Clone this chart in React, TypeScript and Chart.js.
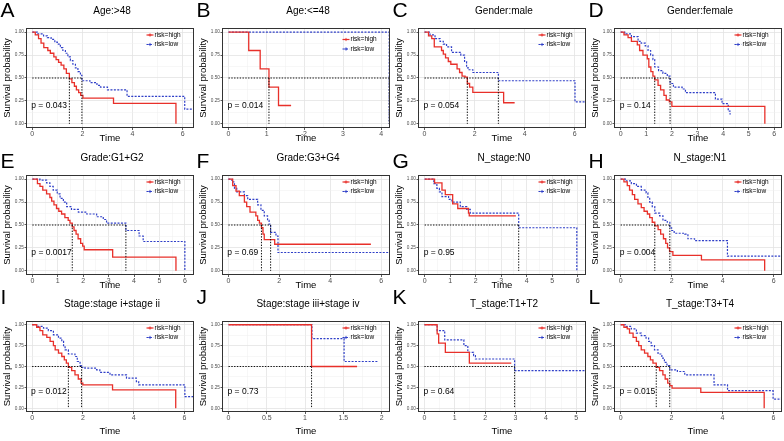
import React, { useEffect, useRef } from "react";
import { Chart, registerables } from "chart.js";

Chart.register(...registerables);

const FONT = 'Arial, "Liberation Sans", Helvetica, sans-serif';
const RED = "#e8302a";
const BLUE = "#2f3fc8";
const MED = "#111111";

// ---------- tick labels ----------
const Y_TICKS = [0, 0.25, 0.5, 0.75, 1];
const Y_LABELS = ["0.00", "0.25", "0.50", "0.75", "1.00"];
const X_TICKS_EVEN6 = [0, 2, 4, 6];
const X_LABELS_EVEN6 = ["0", "2", "4", "6"];
const X_TICKS_INT6 = [0, 1, 2, 3, 4, 5, 6];
const X_LABELS_INT6 = ["0", "1", "2", "3", "4", "5", "6"];
const X_TICKS_INT4 = [0, 1, 2, 3, 4];
const X_LABELS_INT4 = ["0", "1", "2", "3", "4"];
const X_TICKS_INT5 = [0, 1, 2, 3, 4, 5];
const X_LABELS_INT5 = ["0", "1", "2", "3", "4", "5"];
const X_TICKS_HALF = [0, 0.5, 1, 1.5, 2];
const X_LABELS_HALF = ["0", "0.5", "1", "1.5", "2"];

// ---------- A: Age:>48 ----------
const A_high_t = [0, 0.12, 0.25, 0.35, 0.46, 0.62, 0.72, 0.86, 0.95, 1.05, 1.15, 1.26, 1.36, 1.48, 1.58, 1.68, 1.76, 1.85, 1.93, 2.02, 3.24, 5.73];
const A_high_s = [1, 0.97, 0.93, 0.88, 0.83, 0.8, 0.77, 0.73, 0.7, 0.67, 0.64, 0.6, 0.55, 0.49, 0.45, 0.41, 0.37, 0.34, 0.31, 0.28, 0.224, 0];
const A_low_t = [0, 0.2, 0.45, 0.6, 0.75, 0.9, 1.0, 1.12, 1.22, 1.32, 1.42, 1.52, 1.62, 1.72, 1.82, 1.92, 1.98, 2.3, 2.58, 2.72, 3.0, 3.78, 6.08, 6.45];
const A_low_s = [1, 0.98, 0.96, 0.94, 0.92, 0.89, 0.87, 0.83, 0.8, 0.77, 0.73, 0.69, 0.65, 0.61, 0.57, 0.53, 0.47, 0.45, 0.42, 0.4, 0.37, 0.3, 0.16, 0.16];
const A_medians = [1.48, 1.98];

// ---------- B: Age:<=48 ----------
const B_high_t = [0, 0.53, 0.83, 1.06, 1.31, 1.64];
const B_high_s = [1, 0.8, 0.6, 0.4, 0.2, 0.2];
const B_low_t = [0, 4.21];
const B_low_s = [1, 0];
const B_medians = [1.06, 4.21];

// ---------- C: Gender:male ----------
const C_high_t = [0, 0.16, 0.29, 0.39, 0.68, 0.75, 0.84, 0.95, 1.05, 1.3, 1.4, 1.5, 1.62, 1.71, 1.8, 1.93, 3.16, 3.6];
const C_high_s = [1, 0.96, 0.93, 0.84, 0.8, 0.76, 0.72, 0.68, 0.65, 0.6, 0.56, 0.52, 0.51, 0.44, 0.4, 0.343, 0.23, 0.23];
const C_low_t = [0, 0.22, 0.42, 0.62, 0.75, 0.88, 1.08, 1.45, 1.6, 1.68, 1.78, 1.93, 2.95, 6.01, 6.45];
const C_low_s = [1, 0.97, 0.93, 0.9, 0.87, 0.84, 0.78, 0.75, 0.68, 0.61, 0.59, 0.56, 0.47, 0.24, 0.24];
const C_medians = [1.71, 2.95];

// ---------- D: Gender:female ----------
const D_high_t = [0, 0.13, 0.29, 0.42, 0.65, 0.74, 0.87, 1.04, 1.1, 1.18, 1.26, 1.33, 1.46, 1.56, 1.69, 1.78, 1.9, 2.0, 5.63];
const D_high_s = [1, 0.97, 0.94, 0.9, 0.86, 0.8, 0.75, 0.71, 0.62, 0.57, 0.52, 0.48, 0.42, 0.37, 0.31, 0.26, 0.24, 0.19, 0];
const D_low_t = [0, 0.16, 0.42, 0.68, 0.8, 0.96, 1.07, 1.17, 1.26, 1.33, 1.48, 1.65, 1.82, 1.93, 2.06, 2.4, 2.53, 3.7, 3.96, 4.2, 4.27, 4.3];
const D_low_s = [1, 0.98, 0.95, 0.9, 0.88, 0.85, 0.8, 0.75, 0.7, 0.62, 0.58, 0.55, 0.52, 0.44, 0.4, 0.38, 0.34, 0.27, 0.22, 0.14, 0.11, 0.11];
const D_medians = [1.33, 1.93];

// ---------- E: Grade:G1+G2 ----------
const E_high_t = [0, 0.2, 0.3, 0.41, 0.56, 0.69, 0.76, 0.85, 0.95, 1.04, 1.15, 1.28, 1.41, 1.48, 1.57, 1.64, 1.72, 1.8, 1.9, 1.98, 2.04, 3.16, 5.65];
const E_high_s = [1, 0.95, 0.92, 0.88, 0.84, 0.8, 0.76, 0.72, 0.68, 0.65, 0.62, 0.58, 0.55, 0.52, 0.48, 0.44, 0.4, 0.35, 0.3, 0.27, 0.23, 0.15, 0];
const E_low_t = [0, 0.3, 0.56, 0.69, 0.82, 0.98, 1.09, 1.22, 1.35, 1.54, 1.81, 2.14, 2.53, 2.79, 2.92, 3.68, 4.2, 4.36, 6.0];
const E_low_s = [1, 0.99, 0.96, 0.92, 0.88, 0.84, 0.79, 0.75, 0.7, 0.67, 0.64, 0.62, 0.59, 0.56, 0.52, 0.44, 0.38, 0.32, 0];
const E_medians = [1.57, 3.68];

// ---------- F: Grade:G3+G4 ----------
const F_high_t = [0, 0.17, 0.3, 0.43, 0.63, 0.72, 0.85, 1.08, 1.15, 1.22, 1.3, 1.36, 1.41, 1.82, 5.6];
const F_high_s = [1, 0.93, 0.87, 0.82, 0.75, 0.7, 0.64, 0.6, 0.55, 0.52, 0.47, 0.4, 0.34, 0.29, 0.29];
const F_low_t = [0, 0.14, 0.24, 0.33, 0.63, 0.76, 1.15, 1.28, 1.41, 1.54, 1.6, 1.66, 1.87, 1.95, 6.4];
const F_low_s = [1, 0.97, 0.9, 0.86, 0.82, 0.78, 0.72, 0.66, 0.6, 0.55, 0.51, 0.42, 0.38, 0.2, 0.2];
const F_medians = [1.3, 1.66];

// ---------- G: N_stage:N0 ----------
const G_high_t = [0, 0.39, 0.68, 0.81, 1.1, 1.3, 1.72, 1.75, 3.58];
const G_high_s = [1, 0.96, 0.88, 0.83, 0.73, 0.68, 0.63, 0.6, 0.6];
const G_low_t = [0, 0.36, 0.48, 0.58, 0.68, 0.94, 1.07, 1.4, 1.65, 1.79, 3.69, 5.97];
const G_low_s = [1, 0.95, 0.9, 0.86, 0.81, 0.78, 0.75, 0.7, 0.67, 0.63, 0.47, 0];
const G_medians = [3.69];

// ---------- H: N_stage:N1 ----------
const H_high_t = [0, 0.13, 0.26, 0.35, 0.46, 0.55, 0.68, 0.81, 0.92, 1.05, 1.14, 1.24, 1.34, 1.47, 1.57, 1.68, 1.77, 1.84, 1.92, 2.05, 3.17, 5.65];
const H_high_s = [1, 0.97, 0.93, 0.88, 0.83, 0.78, 0.73, 0.69, 0.65, 0.62, 0.58, 0.53, 0.49, 0.45, 0.4, 0.35, 0.3, 0.25, 0.21, 0.17, 0.12, 0];
const H_low_t = [0, 0.22, 0.42, 0.62, 0.81, 1.0, 1.07, 1.14, 1.24, 1.34, 1.53, 1.66, 1.83, 1.93, 2.0, 2.1, 2.51, 2.64, 2.9, 4.19, 6.4];
const H_low_s = [1, 0.98, 0.95, 0.92, 0.88, 0.85, 0.8, 0.75, 0.7, 0.63, 0.6, 0.55, 0.53, 0.47, 0.44, 0.41, 0.4, 0.35, 0.33, 0.16, 0.16];
const H_medians = [1.34, 1.93];

// ---------- I: Stage:stage i+stage ii ----------
const I_high_t = [0, 0.18, 0.31, 0.42, 0.58, 0.71, 0.84, 0.91, 1.04, 1.17, 1.27, 1.35, 1.43, 1.56, 1.69, 1.82, 1.93, 2.0, 3.17, 5.66];
const I_high_s = [1, 0.97, 0.93, 0.88, 0.85, 0.8, 0.75, 0.7, 0.66, 0.62, 0.58, 0.54, 0.49, 0.45, 0.4, 0.35, 0.3, 0.28, 0.22, 0];
const I_low_t = [0, 0.18, 0.45, 0.64, 0.84, 1.04, 1.17, 1.24, 1.3, 1.43, 1.69, 1.78, 1.89, 1.95, 2.08, 2.54, 2.67, 3.07, 3.72, 4.11, 4.2, 6.02, 6.4];
const I_low_s = [1, 0.98, 0.96, 0.93, 0.88, 0.84, 0.8, 0.75, 0.7, 0.65, 0.62, 0.56, 0.51, 0.49, 0.48, 0.46, 0.43, 0.4, 0.36, 0.32, 0.28, 0.14, 0.14];
const I_medians = [1.43, 1.95];

// ---------- J: Stage:stage iii+stage iv ----------
const J_high_t = [0, 1.085, 1.68];
const J_high_s = [1, 0.5, 0.5];
const J_low_t = [0, 1.09, 1.51, 1.96];
const J_low_s = [1, 0.834, 0.56, 0.56];
const J_medians = [1.085];

// ---------- K: T_stage:T1+T2 ----------
const K_high_t = [0, 0.42, 0.47, 0.69, 1.48, 2.86];
const K_high_s = [1, 0.89, 0.78, 0.67, 0.54, 0.54];
const K_low_t = [0, 0.42, 0.67, 1.3, 1.43, 1.62, 1.68, 2.97, 5.3];
const K_low_s = [1, 0.93, 0.82, 0.75, 0.67, 0.63, 0.59, 0.45, 0.45];
const K_medians = [2.97];

// ---------- L: T_stage:T3+T4 ----------
const L_high_t = [0, 0.13, 0.26, 0.35, 0.49, 0.62, 0.71, 0.81, 0.94, 1.07, 1.17, 1.27, 1.4, 1.53, 1.66, 1.75, 1.85, 1.93, 2.02, 3.15, 5.64];
const L_high_s = [1, 0.97, 0.95, 0.9, 0.85, 0.8, 0.75, 0.7, 0.66, 0.62, 0.58, 0.54, 0.49, 0.45, 0.4, 0.35, 0.3, 0.27, 0.24, 0.19, 0];
const L_low_t = [0, 0.22, 0.42, 0.62, 0.81, 1.0, 1.1, 1.2, 1.33, 1.47, 1.62, 1.72, 1.82, 1.93, 2.23, 2.52, 3.67, 4.2, 5.99, 6.4];
const L_low_s = [1, 0.98, 0.95, 0.9, 0.87, 0.84, 0.8, 0.75, 0.7, 0.65, 0.6, 0.55, 0.51, 0.46, 0.44, 0.4, 0.28, 0.21, 0.11, 0.11];
const L_medians = [1.4, 1.93];

type PanelDef = {
  letter: string;
  title: string;
  p: string;
  ht: number[];
  hs: number[];
  lt: number[];
  ls: number[];
  medians: number[];
  xMin: number;
  xMax: number;
  xTicks: number[];
  xLabels: string[];
  legendDy?: number;
};

const PANELS: PanelDef[] = [
  { letter: "A", title: "Age:>48", p: "p = 0.043", ht: A_high_t, hs: A_high_s, lt: A_low_t, ls: A_low_s, medians: A_medians, xMin: -0.25, xMax: 6.45, xTicks: X_TICKS_EVEN6, xLabels: X_LABELS_EVEN6 },
  { letter: "B", title: "Age:<=48", p: "p = 0.014", ht: B_high_t, hs: B_high_s, lt: B_low_t, ls: B_low_s, medians: B_medians, xMin: -0.17, xMax: 4.23, xTicks: X_TICKS_INT4, xLabels: X_LABELS_INT4, legendDy: 4.5 },
  { letter: "C", title: "Gender:male", p: "p = 0.054", ht: C_high_t, hs: C_high_s, lt: C_low_t, ls: C_low_s, medians: C_medians, xMin: -0.26, xMax: 6.45, xTicks: X_TICKS_EVEN6, xLabels: X_LABELS_EVEN6 },
  { letter: "D", title: "Gender:female", p: "p = 0.14", ht: D_high_t, hs: D_high_s, lt: D_low_t, ls: D_low_s, medians: D_medians, xMin: -0.26, xMax: 6.3, xTicks: X_TICKS_INT6, xLabels: X_LABELS_INT6 },
  { letter: "E", title: "Grade:G1+G2", p: "p = 0.0017", ht: E_high_t, hs: E_high_s, lt: E_low_t, ls: E_low_s, medians: E_medians, xMin: -0.25, xMax: 6.36, xTicks: X_TICKS_INT6, xLabels: X_LABELS_INT6 },
  { letter: "F", title: "Grade:G3+G4", p: "p = 0.69", ht: F_high_t, hs: F_high_s, lt: F_low_t, ls: F_low_s, medians: F_medians, xMin: -0.25, xMax: 6.35, xTicks: X_TICKS_EVEN6, xLabels: X_LABELS_EVEN6 },
  { letter: "G", title: "N_stage:N0", p: "p = 0.95", ht: G_high_t, hs: G_high_s, lt: G_low_t, ls: G_low_s, medians: G_medians, xMin: -0.26, xMax: 6.33, xTicks: X_TICKS_INT6, xLabels: X_LABELS_INT6 },
  { letter: "H", title: "N_stage:N1", p: "p = 0.004", ht: H_high_t, hs: H_high_s, lt: H_low_t, ls: H_low_s, medians: H_medians, xMin: -0.26, xMax: 6.33, xTicks: X_TICKS_EVEN6, xLabels: X_LABELS_EVEN6 },
  { letter: "I", title: "Stage:stage i+stage ii", p: "p = 0.012", ht: I_high_t, hs: I_high_s, lt: I_low_t, ls: I_low_s, medians: I_medians, xMin: -0.24, xMax: 6.38, xTicks: X_TICKS_EVEN6, xLabels: X_LABELS_EVEN6 },
  { letter: "J", title: "Stage:stage iii+stage iv", p: "p = 0.73", ht: J_high_t, hs: J_high_s, lt: J_low_t, ls: J_low_s, medians: J_medians, xMin: -0.085, xMax: 2.11, xTicks: X_TICKS_HALF, xLabels: X_LABELS_HALF },
  { letter: "K", title: "T_stage:T1+T2", p: "p = 0.64", ht: K_high_t, hs: K_high_s, lt: K_low_t, ls: K_low_s, medians: K_medians, xMin: -0.21, xMax: 5.32, xTicks: X_TICKS_INT5, xLabels: X_LABELS_INT5 },
  { letter: "L", title: "T_stage:T3+T4", p: "p = 0.015", ht: L_high_t, hs: L_high_s, lt: L_low_t, ls: L_low_s, medians: L_medians, xMin: -0.26, xMax: 6.34, xTicks: X_TICKS_EVEN6, xLabels: X_LABELS_EVEN6 },
];

const PW = 196;
const PH = 147;
const PLOT_LEFT = 26;
const PLOT_RIGHT = 194;
// per-row layout (relative to each panel's top)
const ROW_PLOT_TOP = [28, 28, 27];
const ROW_PLOT_BOTTOM = [128, 128, 118];
const ROW_TIME_Y = [138, 138.5, 137];
const ROW_TITLE_Y = [11, 11, 10];
const LETTER_TOP = [-0.7, 150.3, 286.3];

function gridValues(majors: number[], min: number, max: number) {
  const step = majors[1] - majors[0];
  const out: number[] = [];
  const first = majors[0] - step / 2;
  const last = majors[majors.length - 1] + step / 2;
  for (let k = 0; first + (k * step) / 2 <= last + 1e-9; k++) {
    const v = Math.round((first + (k * step) / 2) * 10000) / 10000;
    if (v >= min && v <= max) out.push(v);
  }
  return out;
}
const isIn = (arr: number[], v: number) => arr.some((m) => Math.abs(m - v) < 1e-6);

function buildConfig(p: PanelDef, row: number): any {
  const pts = (t: number[], s: number[]) => t.map((v, i) => ({ x: v, y: s[i] }));
  const mMax = Math.max(...p.medians);
  const xGrid = gridValues(p.xTicks, p.xMin, p.xMax);
  const yGrid = gridValues(Y_TICKS, -0.045, 1.045);
  const medStyle = {
    borderColor: MED,
    borderWidth: 1,
    borderDash: [1.4, 1.4],
    pointRadius: 0,
    fill: false,
  };
  const datasets: any[] = [
    { label: "median", data: [{ x: 0, y: 0.5 }, { x: mMax, y: 0.5 }], ...medStyle },
    ...p.medians.map((m) => ({ label: "median", data: [{ x: m, y: 0.5 }, { x: m, y: 0 }], ...medStyle })),
    {
      label: "risk=high",
      data: pts(p.ht, p.hs),
      stepped: "before",
      borderColor: RED,
      borderWidth: 1.3,
      pointRadius: 0,
      fill: false,
    },
    {
      label: "risk=low",
      data: pts(p.lt, p.ls),
      stepped: "before",
      borderColor: BLUE,
      borderWidth: 1.2,
      borderDash: [2, 1.4],
      pointRadius: 0,
      fill: false,
    },
  ];

  const plotTop = ROW_PLOT_TOP[row];
  const plotBottom = ROW_PLOT_BOTTOM[row];
  const titleLH = 9.5 * 1.2;
  const timePadBottom = PH - titleLH / 2 - ROW_TIME_Y[row];

  const decor = {
    id: "kmDecor",
    afterDraw(chart: any) {
      const { ctx, chartArea: ca, scales } = chart;
      const xs = scales.x;
      const ys = scales.y;
      ctx.save();
      // panel border
      ctx.strokeStyle = "#333333";
      ctx.lineWidth = 1;
      ctx.setLineDash([]);
      ctx.strokeRect(ca.left + 0.5, ca.top + 0.5, ca.right - ca.left - 1, ca.bottom - ca.top - 1);
      // title
      ctx.fillStyle = "#000";
      ctx.font = `10px ${FONT}`;
      ctx.textAlign = "center";
      ctx.textBaseline = "middle";
      ctx.fillText(p.title, (ca.left + ca.right) / 2 + 2, ROW_TITLE_Y[row]);
      // p value
      ctx.font = `8.5px ${FONT}`;
      ctx.textAlign = "left";
      ctx.fillText(p.p, xs.getPixelForValue(0) - 1, ys.getPixelForValue(0.2));
      // legend
      const dy = p.legendDy || 0;
      const items = [
        { label: "risk=high", color: RED, dash: [] as number[] },
        { label: "risk=low", color: BLUE, dash: [2, 1.4] },
      ];
      items.forEach((it, k) => {
        const yy = ca.top + 7 + dy + k * 9.5;
        const x0 = ca.right - 47.5;
        const x1 = ca.right - 40.5;
        ctx.strokeStyle = it.color;
        ctx.lineWidth = 1.2;
        ctx.setLineDash(it.dash);
        ctx.beginPath();
        ctx.moveTo(x0, yy);
        ctx.lineTo(x1, yy);
        ctx.stroke();
        ctx.setLineDash([]);
        ctx.lineWidth = 0.9;
        const cx = (x0 + x1) / 2;
        ctx.beginPath();
        ctx.moveTo(cx - 1.6, yy);
        ctx.lineTo(cx + 1.6, yy);
        ctx.moveTo(cx, yy - 1.6);
        ctx.lineTo(cx, yy + 1.6);
        ctx.stroke();
        ctx.fillStyle = "#000";
        ctx.font = `6.5px ${FONT}`;
        ctx.textAlign = "left";
        ctx.textBaseline = "middle";
        ctx.fillText(it.label, x1 + 1, yy);
      });
      ctx.restore();
    },
  };

  return {
    type: "line",
    data: { datasets },
    plugins: [decor],
    options: {
      animation: false,
      responsive: false,
      maintainAspectRatio: false,
      events: [],
      layout: { padding: { top: plotTop, right: PW - PLOT_RIGHT, left: 0, bottom: 0 } },
      plugins: {
        legend: { display: false },
        tooltip: { enabled: false },
        title: { display: false },
      },
      scales: {
        x: {
          type: "linear",
          min: p.xMin,
          max: p.xMax,
          afterBuildTicks: (s: any) => {
            s.ticks = xGrid.map((v) => ({ value: v }));
          },
          afterFit: (s: any) => {
            s.height = PH - plotBottom;
            s.paddingLeft = 0;
            s.paddingRight = 0;
          },
          ticks: {
            autoSkip: false,
            maxRotation: 0,
            minRotation: 0,
            padding: -0.5,
            color: "#4d4d4d",
            font: { family: FONT, size: 7 },
            callback: (v: number) => {
              const i = p.xTicks.findIndex((m) => Math.abs(m - v) < 1e-6);
              return i >= 0 ? p.xLabels[i] : "";
            },
          },
          grid: {
            color: (c: any) => (c.tick && isIn(p.xTicks, c.tick.value) ? "#e3e3e3" : "#eeeeee"),
            lineWidth: (c: any) => (c.tick && isIn(p.xTicks, c.tick.value) ? 0.8 : 0.5),
            tickLength: 2,
            tickColor: (c: any) => (c.tick && isIn(p.xTicks, c.tick.value) ? "#333333" : "rgba(0,0,0,0)"),
            tickWidth: 0.8,
          },
          border: { display: false },
          title: {
            display: true,
            text: "Time",
            color: "#000",
            font: { family: FONT, size: 9.5 },
            padding: { top: 0, bottom: timePadBottom },
          },
        },
        y: {
          type: "linear",
          min: -0.045,
          max: 1.045,
          afterBuildTicks: (s: any) => {
            s.ticks = yGrid.map((v) => ({ value: v }));
          },
          afterFit: (s: any) => {
            s.width = PLOT_LEFT;
            s.paddingTop = 0;
            s.paddingBottom = 0;
          },
          ticks: {
            autoSkip: false,
            padding: 0.6,
            color: "#4d4d4d",
            font: { family: FONT, size: 4.7 },
            callback: (v: number) => {
              const i = Y_TICKS.findIndex((m) => Math.abs(m - v) < 1e-6);
              return i >= 0 ? Y_LABELS[i] : "";
            },
          },
          grid: {
            color: (c: any) => (c.tick && isIn(Y_TICKS, c.tick.value) ? "#e3e3e3" : "#eeeeee"),
            lineWidth: (c: any) => (c.tick && isIn(Y_TICKS, c.tick.value) ? 0.8 : 0.5),
            tickLength: 1.5,
            tickColor: (c: any) => (c.tick && isIn(Y_TICKS, c.tick.value) ? "#333333" : "rgba(0,0,0,0)"),
            tickWidth: 0.8,
          },
          border: { display: false },
          title: {
            display: true,
            text: "Survival probability",
            color: "#000",
            font: { family: FONT, size: 9.5 },
            padding: { top: 1.3, bottom: 0 },
          },
        },
      },
    },
  };
}

function KMPanel({ p, row, col }: { p: PanelDef; row: number; col: number }) {
  const ref = useRef<HTMLCanvasElement>(null);
  useEffect(() => {
    const chart = new Chart(ref.current as HTMLCanvasElement, buildConfig(p, row));
    return () => chart.destroy();
  }, [p, row]);
  return (
    <canvas
      ref={ref}
      width={PW}
      height={PH}
      style={{ position: "absolute", left: col * PW, top: row * PH, width: PW, height: PH }}
    />
  );
}

export default function App() {
  return (
    <div
      style={{
        position: "fixed",
        left: 0,
        top: 0,
        width: 784,
        height: 441,
        background: "#ffffff",
        overflow: "hidden",
      }}
    >
      {PANELS.map((p, i) => (
        <KMPanel key={p.letter} p={p} row={Math.floor(i / 4)} col={i % 4} />
      ))}
      {PANELS.map((p, i) => (
        <div
          key={"L" + p.letter}
          style={{
            position: "absolute",
            left: (i % 4) * PW + 0.5,
            top: LETTER_TOP[Math.floor(i / 4)],
            fontFamily: FONT,
            fontSize: 21,
            lineHeight: 1,
            color: "#000",
          }}
        >
          {p.letter}
        </div>
      ))}
    </div>
  );
}
